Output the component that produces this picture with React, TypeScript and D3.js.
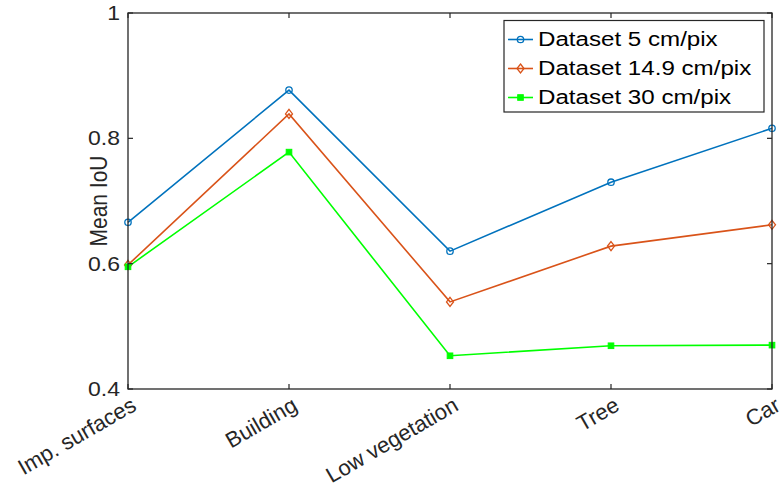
import * as d3 from "d3";

const categories = ["Imp. surfaces", "Building", "Low vegetation", "Tree", "Car"];
const yTicks = [0.4, 0.6, 0.8, 1];

const series5 = [0.666, 0.877, 0.620, 0.730, 0.816];
const series149 = [0.598, 0.839, 0.539, 0.628, 0.662];
const series30 = [0.595, 0.778, 0.453, 0.469, 0.470];

const seriesNames = ["Dataset 5 cm/pix", "Dataset 14.9 cm/pix", "Dataset 30 cm/pix"];
const seriesColors = ["#0072BD", "#D95319", "#00FF00"];
const seriesMarkers = ["circle", "diamond", "square"];

const W = 781;
const H = 497;
const left = 128;
const right = 772;
const top = 13;
const bottom = 389;
const SX = 1.15; // picture is slightly wider than tall
const FONT = "'Liberation Sans', Arial, Helvetica, sans-serif";
const AX = "#262626";

const Marker = ({ kind, x, y, color }: { kind: string; x: number; y: number; color: string }) => {
  if (kind === "circle")
    return <circle cx={x} cy={y} r={3.2} fill="none" stroke={color} strokeWidth={1.3} />;
  if (kind === "diamond")
    return (
      <path
        d={`M${x},${y - 4.5}L${x + 3.5},${y}L${x},${y + 4.5}L${x - 3.5},${y}Z`}
        fill="none"
        stroke={color}
        strokeWidth={1.3}
      />
    );
  return <rect x={x - 2.8} y={y - 2.8} width={5.6} height={5.6} fill={color} stroke={color} strokeWidth={1} />;
};

const App = () => {
  const x = d3.scalePoint<string>().domain(categories).range([left, right]);
  const y = d3.scaleLinear().domain([0.4, 1]).range([bottom, top]);
  const all = [series5, series149, series30];
  const line = d3
    .line<number>()
    .x((_, i) => x(categories[i]) as number)
    .y((d) => y(d));

  return (
    <svg width={W} height={H} style={{ position: "absolute", left: 0, top: 0, background: "#fff" }}>
      <rect x={0} y={0} width={W} height={H} fill="#fff" />

      {/* data */}
      {all.map((s, si) => (
        <g key={si}>
          <path d={line(s) || ""} fill="none" stroke={seriesColors[si]} strokeWidth={1.6} />
          {s.map((v, i) => (
            <Marker key={i} kind={seriesMarkers[si]} x={x(categories[i]) as number} y={y(v)} color={seriesColors[si]} />
          ))}
        </g>
      ))}

      {/* box */}
      <rect x={left} y={top} width={right - left} height={bottom - top} fill="none" stroke={AX} strokeWidth={1.3} />

      {/* x ticks */}
      {categories.map((c) => {
        const tx = x(c) as number;
        return (
          <g key={c}>
            <line x1={tx} x2={tx} y1={bottom} y2={bottom - 5} stroke={AX} strokeWidth={1.2} />
            <line x1={tx} x2={tx} y1={top} y2={top + 5} stroke={AX} strokeWidth={1.2} />
            <g transform={`translate(${tx + 6},${bottom + 14}) rotate(-30)`}>
              <text textAnchor="end" dominantBaseline="central" fontFamily={FONT} fontSize={22} fill={AX}>
                {c}
              </text>
            </g>
          </g>
        );
      })}

      {/* y ticks */}
      {yTicks.map((t) => (
        <g key={t}>
          <line x1={left} x2={left + 5} y1={y(t)} y2={y(t)} stroke={AX} strokeWidth={1.2} />
          <line x1={right} x2={right - 5} y1={y(t)} y2={y(t)} stroke={AX} strokeWidth={1.2} />
          <g transform={`translate(${left - 8},${y(t)}) scale(${SX},1)`}>
            <text textAnchor="end" dominantBaseline="central" fontFamily={FONT} fontSize={20} fill={AX}>
              {d3.format("~g")(t)}
            </text>
          </g>
        </g>
      ))}

      {/* y label */}
      <g transform={`translate(107,${(top + bottom) / 2}) scale(${SX},1) rotate(-90)`}>
        <text textAnchor="middle" fontFamily={FONT} fontSize={21} fill={AX}>
          Mean IoU
        </text>
      </g>

      {/* legend */}
      <rect x={504} y={20.5} width={260} height={91.5} fill="#fff" stroke={AX} strokeWidth={1.2} />
      {seriesNames.map((n, i) => {
        const ly = 39.5 + i * 29;
        return (
          <g key={n}>
            <line x1={508} x2={533} y1={ly} y2={ly} stroke={seriesColors[i]} strokeWidth={1.6} />
            <Marker kind={seriesMarkers[i]} x={520.5} y={ly} color={seriesColors[i]} />
            <g transform={`translate(538,${ly}) scale(${SX},1)`}>
              <text dominantBaseline="central" fontFamily={FONT} fontSize={21} fill="#000">
                {n}
              </text>
            </g>
          </g>
        );
      })}
    </svg>
  );
};

export default App;
